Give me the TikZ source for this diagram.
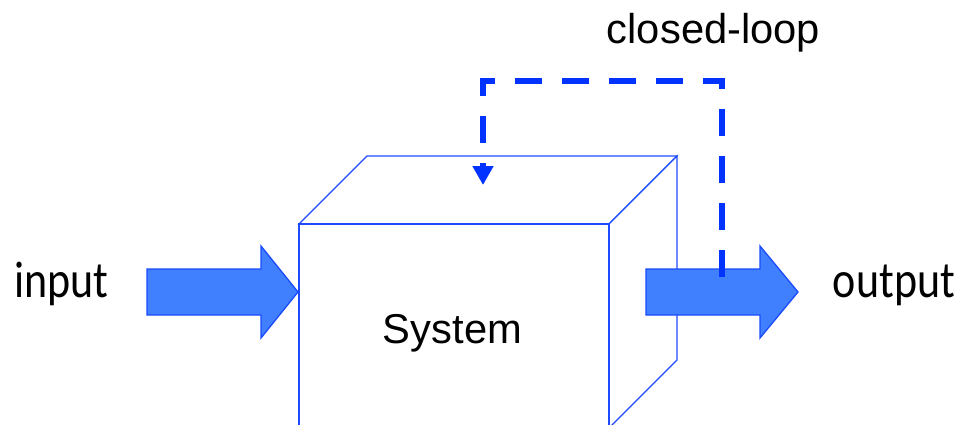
\documentclass[tikz,border=0pt]{standalone}
\usepackage{fontspec}
\setmainfont{Liberation Sans}
\newfontfamily\carlito{Carlito}
\usetikzlibrary{arrows.meta}
\definecolor{boxblue}{RGB}{30,75,255}
\definecolor{arrowfill}{RGB}{64,128,255}
\definecolor{arrowline}{RGB}{25,75,255}
\definecolor{loopblue}{RGB}{0,51,255}
\tikzset{
  boxline/.style={draw=boxblue, line width=1.3pt, fill=white, line join=miter},
  blockarrow/.style={draw=arrowline, fill=arrowfill, line width=1.3pt, line join=miter},
  loopline/.style={draw=loopblue, line width=6.8pt, dash pattern=on 27pt off 20pt, line join=miter,
    -{Triangle[length=19pt,width=20pt]}},
  arial/.style={font=\fontsize{41.7}{50}\selectfont, inner sep=0pt, anchor=base},
  calib/.style={font=\fontsize{44}{52}\carlito, inner sep=0pt, anchor=base}
}
\begin{document}
\begin{tikzpicture}[x=1pt,y=-1pt]
\useasboundingbox (0,0) rectangle (956,424);
\clip (0,0) rectangle (956,424);
% cube corners
\coordinate (ftl) at (299,224);
\coordinate (ftr) at (609,224);
\coordinate (fbr) at (609,428);
\coordinate (fbl) at (299,428);
\coordinate (btl) at (367,156);
\coordinate (btr) at (677,156);
\coordinate (bbr) at (677,360);
% input block arrow
\draw[blockarrow] (147,269) -- (261,269) -- (261,246) -- (298,292) -- (261,338) -- (261,315) -- (147,315) -- cycle;
% cube
\draw[boxline] (ftl) -- (btl) -- (btr) -- (ftr) -- cycle;
\draw[boxline] (ftr) -- (btr) -- (bbr) -- (fbr) -- cycle;
\draw[boxline] (ftl) rectangle (fbr);
% output block arrow
\draw[blockarrow] (646,269) -- (760,269) -- (760,246) -- (798,292) -- (760,338) -- (760,315) -- (646,315) -- cycle;
% closed loop
\coordinate (ls) at (722,277);
\coordinate (lc1) at (722,81);
\coordinate (lc2) at (483,81);
\coordinate (le) at (483,185);
\draw[loopline] (ls) -- (lc1) -- (lc2) -- (le);
% texts
\node[arial] (sys) at (452.5,343) {System};
\node[arial] (cl) at (713.5,43) {closed-loop};
\node[calib] (in) at (61.5,297) {\scalebox{1}[1.17]{input}};
\node[calib] (out) at (894,297) {\scalebox{1}[1.17]{output}};
\end{tikzpicture}
\end{document}
